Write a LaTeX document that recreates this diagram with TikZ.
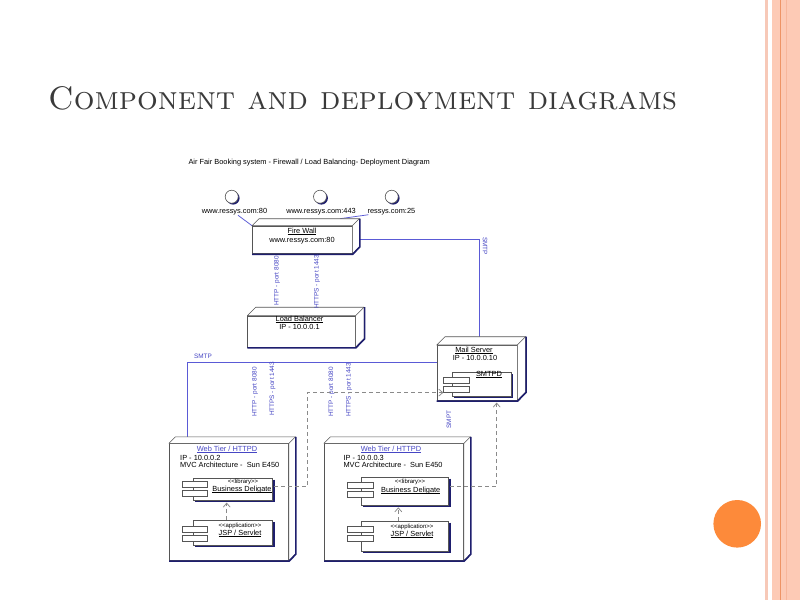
\documentclass[tikz,border=0pt]{standalone}
\usepackage{fontspec}
\newfontfamily\arial{Liberation Sans}
\usetikzlibrary{calc,arrows.meta}
\pgfdeclarelayer{back}
\pgfsetlayers{back,main}
\definecolor{lnblue}{HTML}{5A5AD6}
\definecolor{txtblue}{HTML}{4646C4}
\definecolor{navy}{HTML}{1E1E6E}
\definecolor{edgec}{HTML}{555555}
\definecolor{dashc}{HTML}{8A8A8A}
\definecolor{orng}{HTML}{FD8A3A}
\definecolor{band}{HTML}{FDCAB5}
\definecolor{paleband}{HTML}{F7C9B8}
\definecolor{bandline}{HTML}{EE9466}
\definecolor{bandlight}{HTML}{F7B79C}
\definecolor{titlec}{HTML}{3A3A3A}
\newcommand\ul[1]{\setbox0\hbox{#1}\rlap{\raisebox{-1.1pt}{\rule{\wd0}{0.45pt}}}\box0}
\tikzset{
  front/.style={draw=edgec, fill=white, line width=0.6pt, inner sep=0pt, anchor=north west},
  comp/.style={draw=edgec, fill=white, line width=0.6pt, inner sep=0pt, anchor=north west},
  port/.style={draw=edgec, fill=white, line width=0.6pt, inner sep=0pt, minimum width=26pt, minimum height=6pt, anchor=north west},
  iface/.style={circle, draw=edgec, fill=white, line width=0.6pt, inner sep=0pt, minimum size=13pt},
  conn/.style={draw=lnblue, line width=0.75pt},
  dep/.style={draw=dashc, line width=0.75pt, dash pattern=on 4pt off 3pt, -{Straight Barb[length=4pt,width=7pt]}},
  txt/.style={font=\arial\fontsize{7.4}{8}\selectfont, inner sep=0pt, text=black},
  bluetxt/.style={font=\arial\fontsize{7.4}{8}\selectfont, inner sep=0pt, text=txtblue},
  lbl/.style={font=\arial\fontsize{6.4}{7}\selectfont, inner sep=0pt, text=txtblue},
  smalltxt/.style={font=\arial\fontsize{6}{7}\selectfont, inner sep=0pt, text=black},
  titletxt/.style={font=\fontsize{32.6}{33}\selectfont, inner sep=0pt, text=titlec},
}
\newcommand\deco[2]{%
  \draw[edgec, fill=white, line width=0.6pt, line join=round] (#1.north west) -- ++(#2,-#2) -- ($(#1.north east)+(#2,-#2)$) -- ($(#1.south east)+(#2,-#2)$) -- (#1.south east) -- (#1.north east) -- cycle;
  \draw[edgec, line width=0.6pt] (#1.north east) -- ++(#2,-#2);
  \draw[navy, line width=1.6pt] ($(#1.south west)+(0,0.5)$) -- ($(#1.south east)+(0.3,0.5)$) -- ($(#1.south east)+(#2+0.5,-#2)$) -- ($(#1.north east)+(#2+0.5,-#2)$);
}
\newcommand\compsh[1]{%
  \draw[navy, line width=1.3pt] ($(#1.north east)+(1,2)$) -- ($(#1.south east)+(1,1)$) -- ($(#1.south west)+(2,1)$);
}
\newcommand\vlink[3]{%
  \draw[conn] ($(#1.south west)+(#3,0)$) -- ($(#1.south west)+(#3,0)$ |- #2.north);
}
\begin{document}
\begin{tikzpicture}[x=1pt,y=-1pt]
\begin{pgfonlayer}{back}
\fill[white] (0,0) rectangle (800,600);
\end{pgfonlayer}
\useasboundingbox (0,0) rectangle (800,600);

% slide decoration
\fill[band] (772.3,0) rectangle (800,600);
\fill[paleband] (765,0) rectangle (768.3,600);
\draw[bandline, line width=1pt] (780,0) -- (780,600);
\draw[bandlight, line width=1pt] (786,0) -- (786,600);
\fill[orng] (737.2,523.8) circle (23.8);

% title
\node[titletxt, anchor=base west] (title) at (48,109) {\textsc{Component and deployment diagrams}};
\node[txt, anchor=base west] (dtitle) at (188.3,164) {Air Fair Booking system - Firewall / Load Balancing- Deployment Diagram};

% interfaces
\node[iface] (i1) at (231.7,196.7) {};
\node[iface] (i2) at (320,196.7) {};
\node[iface] (i3) at (391.7,196.7) {};
\node[txt, anchor=base] (l1) at (234.5,213) {www.ressys.com:80};
\node[txt, anchor=base] (l2) at (321,213) {www.ressys.com:443};
\node[txt, anchor=base] (l3) at (391.4,213) {ressys.com:25};

% firewall
\node[front, minimum width=99.7pt, minimum height=27.6pt] (fw) at (252,225.7) {};
\deco{fw}{7}
\node[txt, anchor=base] (fwn) at (302,233) {\ul{Fire Wall}};
\node[txt, anchor=base] (fwa) at (302,242) {www.ressys.com:80};

% load balancer
\node[front, minimum width=107.7pt, minimum height=31pt] (lb) at (247.3,315.7) {};
\deco{lb}{8.5}
\node[txt, anchor=base] (lbn) at (299.5,321.5) {\ul{Load Balancer}};
\node[txt, anchor=base] (lbi) at (299.5,329.5) {IP - 10.0.0.1};

% mail server
\node[front, minimum width=80pt, minimum height=55pt] (ms) at (436.7,345) {};
\deco{ms}{8.3}
\node[txt, anchor=base] (msn) at (474,352) {\ul{Mail Server}};
\node[txt, anchor=base] (msi) at (475,360) {IP - 10.0.0.10};
\node[comp, minimum width=59pt, minimum height=23.4pt] (smtpd) at (451.7,372.3) {};
\compsh{smtpd}
\node[port] (sp1) at (443.3,376.7) {};
\node[port] (sp2) at (443.3,386) {};
\node[txt, anchor=base] (smtpdn) at (489,376.5) {\ul{SMTPD}};

% web tier 1
\node[front, minimum width=119.3pt, minimum height=116.7pt] (wt1) at (169,443.3) {};
\deco{wt1}{6.5}
\node[bluetxt, anchor=base] (wt1n) at (227,451) {\ul{Web Tier / HTTPD}};
\node[txt, anchor=base west] (wt1ip) at (180,460) {IP - 10.0.0.2};
\node[txt, anchor=base west] (wt1mvc) at (180,467) {MVC Architecture - \ Sun E450};
\node[comp, minimum width=79pt, minimum height=22.3pt] (bd1) at (193.3,477.7) {};
\compsh{bd1}
\node[port, minimum width=25pt] (bp1) at (181.7,481) {};
\node[port, minimum width=25pt] (bp2) at (181.7,490) {};
\node[smalltxt, anchor=base] (bd1s) at (243,483) {<{}<library>{}>};
\node[txt, anchor=base] (bd1n) at (242,491) {\ul{Business Deligate}};
\node[comp, minimum width=79pt, minimum height=25pt] (jsp1) at (193.3,520) {};
\compsh{jsp1}
\node[port, minimum width=25pt] (jp1) at (181.7,525.7) {};
\node[port, minimum width=25pt] (jp2) at (181.7,535) {};
\node[smalltxt, anchor=base] (jsp1s) at (240,527) {<{}<application>{}>};
\node[txt, anchor=base] (jsp1n) at (240,535) {\ul{JSP / Servlet}};

% web tier 2
\node[front, minimum width=139.3pt, minimum height=116.7pt] (wt2) at (324,443.3) {};
\deco{wt2}{6.5}
\node[bluetxt, anchor=base] (wt2n) at (391,451) {\ul{Web Tier / HTTPD}};
\node[txt, anchor=base west] (wt2ip) at (343.3,460) {IP - 10.0.0.3};
\node[txt, anchor=base west] (wt2mvc) at (343.3,467) {MVC Architecture - \ Sun E450};
\node[comp, minimum width=87.6pt, minimum height=28pt] (bd2) at (360.7,476.7) {};
\compsh{bd2}
\node[port] (bq1) at (347.3,481.7) {};
\node[port] (bq2) at (347.3,491) {};
\node[smalltxt, anchor=base] (bd2s) at (410,483) {<{}<library>{}>};
\node[txt, anchor=base] (bd2n) at (410.7,492) {\ul{Business Deligate}};
\node[comp, minimum width=87.6pt, minimum height=30pt] (jsp2) at (360.7,520.7) {};
\compsh{jsp2}
\node[port] (jq1) at (347.3,526) {};
\node[port] (jq2) at (347.3,535) {};
\node[smalltxt, anchor=base] (jsp2s) at (412,528) {<{}<application>{}>};
\node[txt, anchor=base] (jsp2n) at (412,536.5) {\ul{JSP / Servlet}};

% connectors (behind boxes)
\begin{pgfonlayer}{back}
\fill[navy] ($(i1)+(1.4,1.4)$) circle (6.5);
\fill[navy] ($(i2)+(1.4,1.4)$) circle (6.5);
\fill[navy] ($(i3)+(1.4,1.4)$) circle (6.5);
\draw[conn] ($(l1.south)+(3.5,0.5)$) -- (fw.north west);
\draw[conn] ($(l2.south)+(-8,0)$) -- ($(l2.south)+(-8,0)$ |- fw.north);
\draw[conn] ($(l3.south west)+(1,0)$) -- ($(fw.north west)+(88,-7)$);
\vlink{fw}{lb}{30}
\vlink{fw}{lb}{69}
\vlink{lb}{wt1}{10.7}
\vlink{lb}{wt1}{28.7}
\vlink{lb}{wt2}{88.7}
\vlink{lb}{wt2}{105.7}
\draw[conn] (fw.east) -| ($(ms.north west)+(42.6,0)$);
\draw[conn] ($(ms.north west)+(0,17.7)$) -| ($(wt1.north west)+(18,0)$);
\draw[conn] ($(ms.south west)+(16,0)$) -- ($(ms.south west)+(16,0)$ |- wt2.north);
\end{pgfonlayer}

% connector labels
\node[lbl, rotate=90] (h1) at (277,281) {HTTP - port 8080};
\node[lbl, rotate=90] (h2) at (317,282) {HTTPS - port 1443};
\node[lbl, rotate=90] (h3) at (255,392) {HTTP - port 8080};
\node[lbl, rotate=90] (h4) at (272.5,389) {HTTPS - port 1443};
\node[lbl, rotate=90] (h5) at (331.5,392) {HTTP - port 8080};
\node[lbl, rotate=90] (h6) at (349,390) {HTTPS - port 1443};
\node[lbl, rotate=-90] (s1) at (485,246) {SMTP};
\node[lbl] (s2) at (203,356) {SMTP};
\node[lbl, rotate=90] (s3) at (449,419.5) {SMPT};

% dependencies
\draw[dep] ($(bd1.north east)+(1.5,9)$) -- ++(33,0) |- (sp2.south west);
\draw[dep] ($(bd2.north east)+(1.5,10)$) -| ($(ms.south west)+(60,2)$);
\draw[dep] ($(jsp1.north west)+(33.4,0)$) -- ($(bd1.south west)+(33.4,2)$);
\draw[dep] ($(jsp2.north west)+(37.6,0)$) -- ($(bd2.south west)+(37.6,2)$);
\end{tikzpicture}
\end{document}
